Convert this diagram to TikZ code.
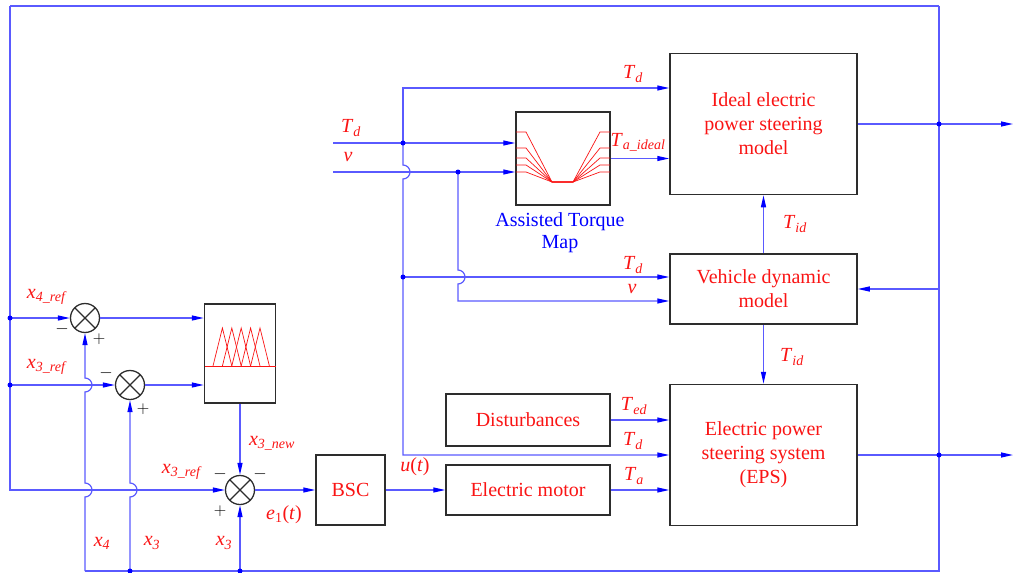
\documentclass[tikz,border=0pt]{standalone}
\usepackage{fontspec}
\setmainfont{Liberation Serif}
\usepackage{tikz}
\usetikzlibrary{arrows.meta}
\definecolor{figblue}{RGB}{90,90,255}
\definecolor{figtip}{RGB}{0,0,255}
\definecolor{figred}{RGB}{250,20,20}
\definecolor{figink}{RGB}{45,45,45}
\newcommand{\sig}[2]{\textit{#1}\textsubscript{\textit{#2}}}
\tikzset{every picture/.append style={font=\fontsize{20}{24}\selectfont}}
\tikzset{
  blk/.style={draw=figink,line width=1.5pt,fill=white,text=figred,align=center,inner sep=0pt},
  summer/.style={circle,draw=figink,line width=1.3pt,minimum size=29pt,inner sep=0pt,
    path picture={\draw[figink,line width=1.3pt]
      (path picture bounding box.north west) -- (path picture bounding box.south east)
      (path picture bounding box.north east) -- (path picture bounding box.south west);}},
  wire/.style={figblue,line width=1.2pt},
  sigarr/.style={wire,-{Triangle[length=12pt,width=5pt,color=figtip]}},
  lab/.style={text=figred,inner sep=1pt},
  sgn/.style={text=black,inner sep=0pt,font=\fontsize{18}{20}\selectfont},
  jdot/.style={circle,fill=figtip,inner sep=0pt,minimum size=5pt},
  memb/.style={figred,line width=0.7pt}
}

\begin{document}
\begin{tikzpicture}[x=1pt,y=1pt]
    \useasboundingbox (0,0) rectangle (1013,-573);
    % blocks
    \node[blk,minimum width=187pt,minimum height=141pt] (ideal) at (763.5,-124) {Ideal electric\\power steering\\model};
    \node[blk,minimum width=187pt,minimum height=70pt] (veh) at (763.5,-289) {Vehicle dynamic\\model};
    \node[blk,minimum width=187pt,minimum height=141pt] (eps) at (763.5,-455) {Electric power\\steering system\\(EPS)};
    \node[blk,minimum width=164pt,minimum height=52pt] (dist) at (528,-420) {Disturbances};
    \node[blk,minimum width=164pt,minimum height=50pt] (motor) at (528,-490) {Electric motor};
    \node[blk,minimum width=69pt,minimum height=70pt] (bsc) at (350.5,-490) {BSC};
    \node[blk,minimum width=94pt,minimum height=93pt] (map) at (563,-158.5) {};
    \node[text=figtip,align=center,font=\fontsize{20}{22}\selectfont] (maplab) at (560,-233) {Assisted Torque\\Map};
    \node[blk,minimum width=71pt,minimum height=99pt] (fuzzy) at (240,-353.5) {};
    \node[summer] (sum1) at (85,-318) {};
    \node[summer] (sum2) at (130,-385) {};
    \node[summer] (sum3) at (240,-490) {};
    % map and fuzzy contents
    \foreach \yy in {132,148,158,165,172}
      \draw[memb] (516,-\yy) -- (526,-\yy) -- (552,-182) -- (573,-182) -- (600,-\yy) -- (610,-\yy);
    \draw[memb] (204.5,-366) -- (275.5,-366);
    \foreach \i in {0,...,4}
      \draw[memb] ({213+9.4*\i},-366) -- ({222.4+9.4*\i},-328) -- ({231.8+9.4*\i},-366);
    % junctions and ends
    \coordinate (tl) at (10,-6);
    \coordinate (tr) at (939,-6);
    \coordinate (br) at (939,-571);
    \coordinate (bl) at (85,-571);
    \coordinate (inTd) at (333,-143);
    \coordinate (inv) at (333,-172);
    \coordinate (tdtop) at (403,-88);
    \coordinate (tdbot) at (403,-455);
    \coordinate (vturn) at (458,-301);
    \coordinate (fbv) at (939,-289);
    \coordinate (out1) at (1013,-124);
    \coordinate (out2) at (1013,-455);
    % loops
    \draw[wire] (tr) -- (tl);
    \draw[wire] (tr) -- (br) -- (bl);
    \draw[sigarr] (tl) |- (sum3);
    \draw[sigarr] (bl) -- (85,-497) arc[start angle=-90,end angle=90,radius=7]
      -- (85,-392) arc[start angle=-90,end angle=90,radius=7] -- (sum1);
    \draw[sigarr] (130,-571) -- (130,-497) arc[start angle=-90,end angle=90,radius=7] -- (sum2);
    \draw[sigarr] (240,-571) -- (sum3);
    \draw[sigarr] (10,-318) -- (sum1);
    \draw[sigarr] (10,-385) -- (sum2);
    \draw[sigarr] (sum1) -- (fuzzy.west |- sum1);
    \draw[sigarr] (sum2) -- (fuzzy.west |- sum2);
    \draw[sigarr] (fuzzy) -- (sum3);
    \draw[sigarr] (sum3) -- (bsc);
    \draw[sigarr] (bsc) -- (motor);
    \draw[sigarr] (motor) -- (motor -| eps.west);
    \draw[sigarr] (dist) -- (dist -| eps.west);
    % torque and speed
    \draw[sigarr] (inTd) -- (map.west |- inTd);
    \draw[sigarr] (inv) -- (map.west |- inv);
    \draw[sigarr] (403,-143) -- (tdtop) -- (tdtop -| ideal.west);
    \draw[sigarr] (403,-143) -- (403,-165) arc[start angle=90,end angle=-90,radius=7]
      -- (tdbot) -- (tdbot -| eps.west);
    \draw[sigarr] (403,-277) -- (403,-277 -| veh.west);
    \draw[sigarr] (458,-172) -- (458,-270) arc[start angle=90,end angle=-90,radius=7]
      -- (vturn) -- (vturn -| veh.west);
    \draw[sigarr] (map) -- (map -| ideal.west);
    \draw[sigarr] (veh) -- (ideal);
    \draw[sigarr] (veh) -- (eps);
    \draw[sigarr] (fbv) -- (veh);
    \draw[sigarr] (ideal) -- (out1);
    \draw[sigarr] (eps) -- (out2);
    \foreach \p in {(10,-318),(10,-385),(130,-571),(240,-571),(403,-143),(403,-277),(458,-172),(939,-124),(939,-455)}
      \node[jdot] at \p {};
    % labels
    \node[lab] at (47,-297) {\sig{x}{4\_ref}};
    \node[lab] at (47,-367) {\sig{x}{3\_ref}};
    \node[lab] at (182,-472) {\sig{x}{3\_ref}};
    \node[lab] at (272,-443) {\sig{x}{3\_new}};
    \node[lab] at (102,-543) {\sig{x}{4}};
    \node[lab] at (152,-543) {\sig{x}{3}};
    \node[lab] at (224,-543) {\sig{x}{3}};
    \node[lab] at (284,-515) {\textit{e}\textsubscript{1}(\textit{t})};
    \node[lab] at (415,-467) {\textit{u}(\textit{t})};
    \node[lab] at (351,-128) {\sig{T}{d}};
    \node[lab] at (348,-157) {\textit{v}};
    \node[lab] at (633,-74) {\sig{T}{d}};
    \node[lab] at (638,-142) {\sig{T}{a\_ideal}};
    \node[lab] at (795,-224) {\sig{T}{id}};
    \node[lab] at (633,-265) {\sig{T}{d}};
    \node[lab] at (632,-289) {\textit{v}};
    \node[lab] at (792,-357) {\sig{T}{id}};
    \node[lab] at (634,-406) {\sig{T}{ed}};
    \node[lab] at (633,-441) {\sig{T}{d}};
    \node[lab] at (634,-476) {\sig{T}{a}};
    \node[sgn] at (62,-329) {$-$};
    \node[sgn] at (99,-339) {$+$};
    \node[sgn] at (106,-373) {$-$};
    \node[sgn] at (143,-409) {$+$};
    \node[sgn] at (220,-474) {$-$};
    \node[sgn] at (260,-474) {$-$};
    \node[sgn] at (220,-511) {$+$};
\end{tikzpicture}
\end{document}
